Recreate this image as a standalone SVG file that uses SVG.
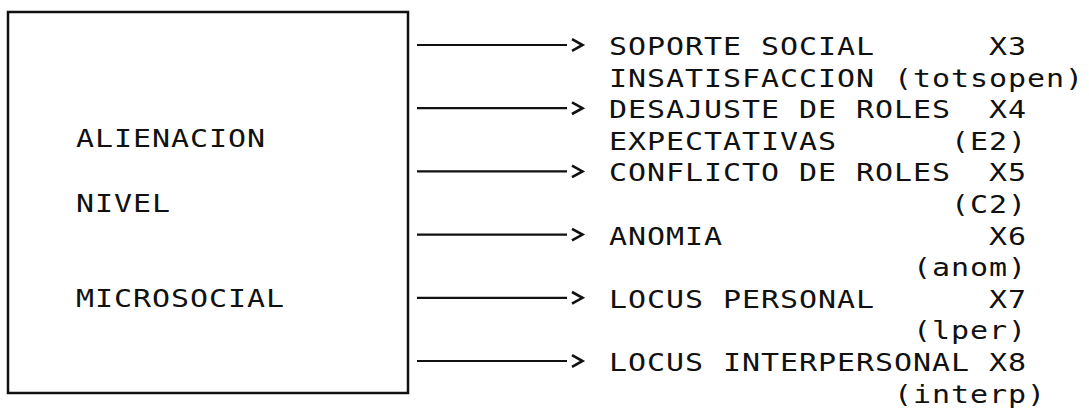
<svg xmlns="http://www.w3.org/2000/svg" width="1089" height="408" viewBox="0 0 1089 408">
  <style>
    .frame { fill: #ffffff; stroke: #111111; stroke-width: 2.5; }
    .conn { stroke: #111111; stroke-width: 2.2; fill: none; }
    /* monospace cells of 19px: 25px glyphs stretched 1.2x horizontally */
    .txt { font-family: "DejaVu Sans Mono", "Liberation Mono", monospace; font-size: 25px; letter-spacing: 0.78px; fill: #111111; }
  </style>
  <defs>
    <marker id="chevron" markerUnits="userSpaceOnUse" viewBox="0 0 20 14" markerWidth="20" markerHeight="14" refX="0" refY="7" orient="auto" overflow="visible">
      <path d="M5,1.2 L15.5,7 L5,12.8" fill="none" stroke="#111111" stroke-width="2.6" stroke-linejoin="miter"/>
    </marker>
  </defs>
  <rect width="1089" height="408" fill="#ffffff"/>

  <!-- source block -->
  <g id="alienacion">
    <rect class="frame" x="8" y="12" width="400" height="381"/>
    <text class="txt" transform="translate(76,147) scale(1.2,1)">ALIENACION</text>
    <text class="txt" transform="translate(76,212) scale(1.2,1)">NIVEL</text>
    <text class="txt" transform="translate(76,307) scale(1.2,1)">MICROSOCIAL</text>
  </g>

  <!-- arrows from the block to each variable -->
  <g id="connectors">
    <line class="conn" x1="417" y1="45" x2="567" y2="45" marker-end="url(#chevron)"/>
    <line class="conn" x1="417" y1="108.2" x2="567" y2="108.2" marker-end="url(#chevron)"/>
    <line class="conn" x1="417" y1="171.4" x2="567" y2="171.4" marker-end="url(#chevron)"/>
    <line class="conn" x1="417" y1="234.6" x2="567" y2="234.6" marker-end="url(#chevron)"/>
    <line class="conn" x1="417" y1="297.8" x2="567" y2="297.8" marker-end="url(#chevron)"/>
    <line class="conn" x1="417" y1="361" x2="567" y2="361" marker-end="url(#chevron)"/>
  </g>

  <!-- variables: text column starts at 609, character cell 19px -->
  <g id="x3">
    <text class="txt" transform="translate(609,55) scale(1.2,1)">SOPORTE SOCIAL</text>
    <text class="txt" transform="translate(989,55) scale(1.2,1)">X3</text>
    <text class="txt" transform="translate(609,86.6) scale(1.2,1)">INSATISFACCION (totsopen)</text>
  </g>
  <g id="x4">
    <text class="txt" transform="translate(609,118.2) scale(1.2,1)">DESAJUSTE DE ROLES</text>
    <text class="txt" transform="translate(989,118.2) scale(1.2,1)">X4</text>
    <text class="txt" transform="translate(609,149.8) scale(1.2,1)">EXPECTATIVAS</text>
    <text class="txt" transform="translate(951,149.8) scale(1.2,1)">(E2)</text>
  </g>
  <g id="x5">
    <text class="txt" transform="translate(609,181.4) scale(1.2,1)">CONFLICTO DE ROLES</text>
    <text class="txt" transform="translate(989,181.4) scale(1.2,1)">X5</text>
    <text class="txt" transform="translate(951,213) scale(1.2,1)">(C2)</text>
  </g>
  <g id="x6">
    <text class="txt" transform="translate(609,244.6) scale(1.2,1)">ANOMIA</text>
    <text class="txt" transform="translate(989,244.6) scale(1.2,1)">X6</text>
    <text class="txt" transform="translate(913,276.2) scale(1.2,1)">(anom)</text>
  </g>
  <g id="x7">
    <text class="txt" transform="translate(609,307.8) scale(1.2,1)">LOCUS PERSONAL</text>
    <text class="txt" transform="translate(989,307.8) scale(1.2,1)">X7</text>
    <text class="txt" transform="translate(913,339.4) scale(1.2,1)">(lper)</text>
  </g>
  <g id="x8">
    <text class="txt" transform="translate(609,371) scale(1.2,1)">LOCUS INTERPERSONAL</text>
    <text class="txt" transform="translate(989,371) scale(1.2,1)">X8</text>
    <text class="txt" transform="translate(894,402.6) scale(1.2,1)">(interp)</text>
  </g>
</svg>
